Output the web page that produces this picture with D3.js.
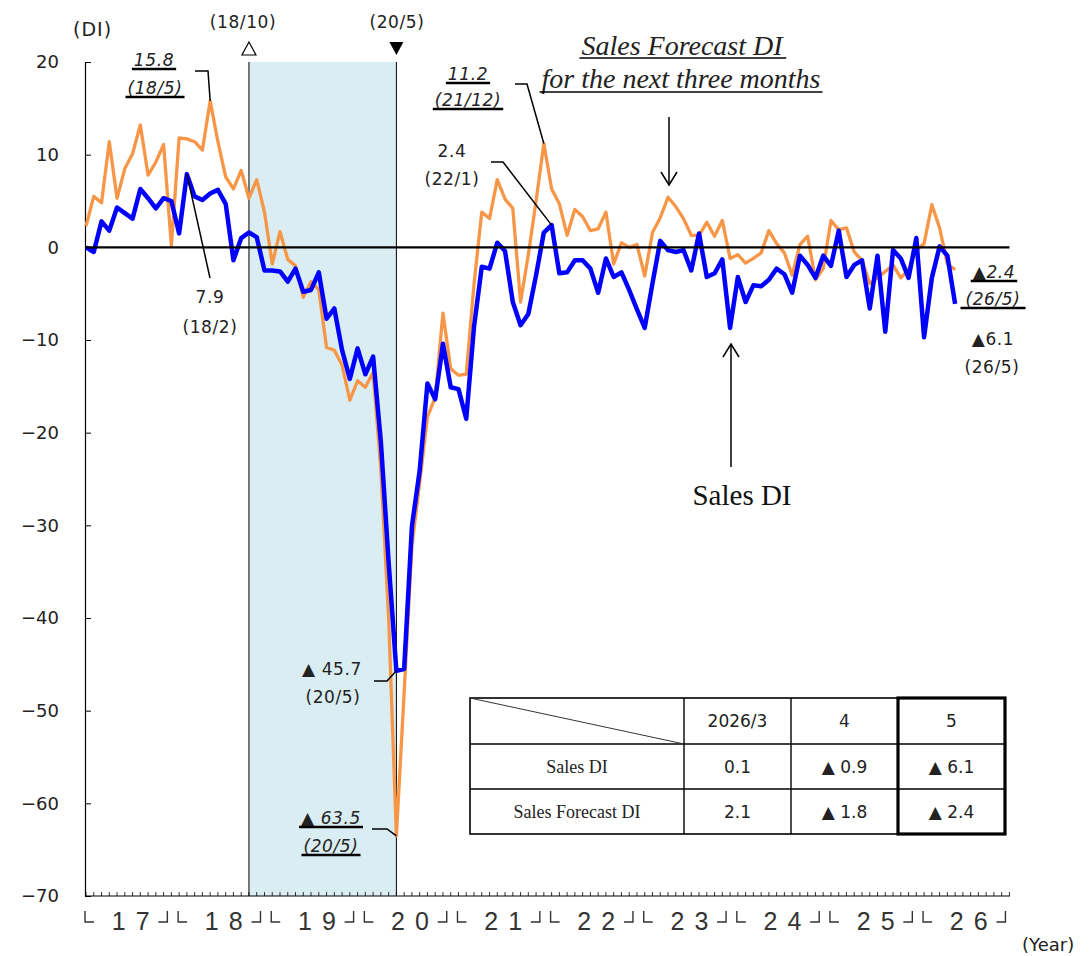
<!DOCTYPE html>
<html><head><meta charset="utf-8">
<script src="https://cdn.jsdelivr.net/npm/d3@7"></script>
<style>body{margin:0;background:#fff;} svg{display:block;}</style>
</head><body>
<svg id="chart" width="1091" height="956"></svg>
<script>
// ---------- DATA ----------
const years = [2017,2018,2019,2020,2021,2022,2023,2024,2025,2026];
const yearLabels = ["17","18","19","20","21","22","23","24","25","26"];
const months = [];
years.forEach(y => { for (let m = 1; m <= 12; m++) months.push(y + "/" + m); });

const salesDI = [
  0.0,-0.5,2.8,1.8,4.3,3.7,3.1,6.3,5.3,4.2,5.3,5.0,
  1.5,7.9,5.5,5.1,5.8,6.2,4.7,-1.4,1.0,1.6,1.1,-2.5,
  -2.5,-2.6,-3.7,-2.3,-4.8,-4.6,-2.7,-7.7,-6.6,-11.1,-14.2,-10.9,
  -13.7,-11.8,-21.0,-34.0,-45.7,-45.5,-30.1,-24.1,-14.7,-16.4,-10.4,-15.1,
  -15.3,-18.5,-8.6,-2.1,-2.3,0.5,-0.4,-5.9,-8.4,-7.2,-3.0,1.6,
  2.4,-2.8,-2.7,-1.4,-1.4,-2.3,-4.9,-1.2,-3.2,-2.7,-4.6,-6.7,
  -8.7,-3.9,0.7,-0.3,-0.5,-0.3,-2.5,1.5,-3.2,-2.8,-1.3,-8.7,
  -3.2,-5.9,-4.1,-4.2,-3.5,-2.3,-2.9,-4.9,-0.9,-1.9,-3.3,-0.9,
  -2.0,1.8,-3.2,-1.9,-1.4,-6.6,-0.9,-9.1,-0.3,-1.2,-3.3,1.0,
  -9.7,-3.3,0.1,-0.9,-6.1
];
const forecastDI = [
  2.3,5.5,4.8,11.4,5.3,8.5,10.1,13.2,7.8,9.2,11.1,0.2,
  11.8,11.7,11.4,10.5,15.8,11.4,7.6,6.3,8.3,5.3,7.3,3.8,
  -1.8,1.7,-1.3,-2.0,-5.4,-3.7,-4.6,-10.8,-11.1,-12.7,-16.5,-14.4,
  -15.1,-13.5,-24.0,-40.0,-63.5,-48.0,-32.2,-25.4,-18.3,-16.2,-7.1,-13.1,
  -13.8,-13.7,-4.0,3.8,3.1,7.3,5.2,4.2,-5.9,-0.8,5.0,11.2,
  6.3,4.7,1.3,4.1,3.3,1.8,2.0,3.8,-1.8,0.5,0.0,0.3,
  -3.1,1.6,3.2,5.4,4.4,3.1,1.3,1.3,2.7,1.2,2.9,-1.2,
  -0.8,-1.7,-1.2,-0.6,1.8,0.4,-0.6,-3.0,0.3,1.2,-3.5,-2.3,
  2.9,1.9,2.1,-0.5,-1.4,-3.9,-3.3,-2.6,-1.9,-3.3,-2.4,-0.3,
  0.4,4.6,2.1,-1.8,-2.4
];
const yTicks = [20,10,0,-10,-20,-30,-40,-50,-60,-70];

const tableCols = ["2026/3","4","5"];
const tableRows = ["Sales DI","Sales Forecast DI"];
const tableSales = ["0.1","▲ 0.9","▲ 6.1"];
const tableForecast = ["2.1","▲ 1.8","▲ 2.4"];

// ---------- SETUP ----------
const svg = d3.select("#chart");
const SANS = "'DejaVu Sans', sans-serif";
const LSANS = "'Liberation Sans', Arial, sans-serif";
const SERIF = "'Liberation Serif', 'Times New Roman', serif";
const INK = "#222";

const x = d3.scalePoint().domain(months).range([86, 86 + 119 * 7.76]);
const y = d3.scaleLinear().domain([-70, 20]).range([896, 62]);
const xi = i => x(months[0]) + i * x.step();
const axisLeft = 85, axisRight = x(months[119]);
const dataMonths = months.slice(0, salesDI.length);

// shaded period
const s0 = x("2018/10"), s1 = x("2020/5");
svg.append("rect").attr("x", s0).attr("y", y(20)).attr("width", s1 - s0).attr("height", y(-70) - y(20)).attr("fill", "#daedf3");
[s0, s1].forEach(v => svg.append("line").attr("x1", v).attr("x2", v).attr("y1", y(20)).attr("y2", y(-70)).attr("stroke", "#000").attr("stroke-width", 1));

// y axis
const ya = svg.append("g").attr("transform", `translate(${axisLeft},0)`)
  .call(d3.axisLeft(y).tickValues(yTicks).tickSize(-6).tickSizeOuter(0).tickPadding(26));
ya.select(".domain").attr("stroke", "#000").attr("stroke-width", 1.2);
ya.selectAll(".tick line").attr("stroke", "#000");
ya.selectAll(".tick text").attr("font-family", SANS).attr("font-size", 18).attr("fill", INK);

// x axis
svg.append("line").attr("x1", axisLeft).attr("x2", axisRight + 0.5).attr("y1", y(-70)).attr("y2", y(-70)).attr("stroke", "#000").attr("stroke-width", 1.2);
svg.append("g").selectAll("line").data(months).join("line")
  .attr("x1", d => x(d)).attr("x2", d => x(d)).attr("y1", y(-70)).attr("y2", y(-70) - 4)
  .attr("stroke", "#000").attr("stroke-width", 0.8);
const xl = svg.append("g").attr("fill", "#333").attr("font-family", LSANS);
yearLabels.forEach((lab, k) => {
  const cx = xi(12 * k + 5.5) + 2;
  xl.append("text").attr("x", cx - 12).attr("y", 930).attr("text-anchor", "middle").attr("font-size", 25).text(lab[0]);
  xl.append("text").attr("x", cx + 12).attr("y", 930).attr("text-anchor", "middle").attr("font-size", 25).text(lab[1]);
  const L = xi(12 * k) - 1, R = xi(12 * k + 11) - 4;
  xl.append("path").attr("d", `M${L},911V922H${L + 9}`).attr("fill", "none").attr("stroke", "#333").attr("stroke-width", 1.4);
  xl.append("path").attr("d", `M${R - 9},922H${R}V911`).attr("fill", "none").attr("stroke", "#333").attr("stroke-width", 1.4);
});
svg.append("text").attr("x", 1022).attr("y", 951).attr("font-family", SANS).attr("font-size", 18).attr("fill", INK).text("(Year)");
svg.append("text").attr("x", 73).attr("y", 36).attr("font-family", SANS).attr("font-size", 19).attr("letter-spacing", 1).attr("fill", INK).text("(DI)");

// series
const line = d3.line().x((d, i) => x(dataMonths[i])).y(d => y(d));
svg.append("path").datum(forecastDI).attr("d", line).attr("fill", "none").attr("stroke", "#f79646").attr("stroke-width", 3.3).attr("stroke-linejoin", "round");
svg.append("path").datum(salesDI).attr("d", line).attr("fill", "none").attr("stroke", "#0000ff").attr("stroke-width", 4.5).attr("stroke-linejoin", "round");

// zero line
svg.append("line").attr("x1", axisLeft).attr("x2", axisRight).attr("y1", y(0)).attr("y2", y(0)).attr("stroke", "#000").attr("stroke-width", 2.4);

// ---------- ANNOTATIONS ----------
const ann = svg.append("g");
function txt(str, cx, by, o = {}) {
  const t = ann.append("text").attr("x", cx).attr("y", by).attr("text-anchor", o.anchor || "middle")
    .attr("font-family", o.font || SANS).attr("font-size", o.size || 17).attr("fill", o.fill || INK)
    .attr("font-style", o.italic ? "italic" : null).attr("letter-spacing", o.ls != null ? o.ls : 0.6).text(str);
  if (o.underline) {
    const b = t.node().getBBox();
    ann.append("line").attr("x1", b.x - (o.ext || 2)).attr("x2", b.x + b.width + (o.ext || 2))
      .attr("y1", by + (o.uoff || 3)).attr("y2", by + (o.uoff || 3)).attr("stroke", "#000").attr("stroke-width", o.uw || 2.6);
  }
  return t;
}
function leader(pts) {
  ann.append("path").attr("d", d3.line()(pts)).attr("fill", "none").attr("stroke", "#000").attr("stroke-width", 1.5);
}
const at = m => months.indexOf(m);

txt("(18/10)", 243, 28);
txt("(20/5)", 397, 28);
ann.append("path").attr("d", `M${s0},42L${s0 - 7},55H${s0 + 7}Z`).attr("fill", "#fff").attr("stroke", "#000").attr("stroke-width", 1.2);
ann.append("path").attr("d", `M${s1 - 7},42H${s1 + 7}L${s1},55Z`).attr("fill", "#000");

// 15.8 (18/5)
txt("15.8", 154, 66, { italic: true, underline: true });
txt("(18/5)", 155, 94, { italic: true, underline: true });
leader([[195, 71], [208, 71], [x("2018/5"), y(forecastDI[at("2018/5")])]]);

// 7.9 (18/2)
txt("7.9", 210, 303);
txt("(18/2)", 210, 333);
leader([[x("2018/2"), y(salesDI[at("2018/2")])], [210, 278]]);

// 11.2 (21/12)
txt("11.2", 468, 80, { italic: true, underline: true });
txt("(21/12)", 468, 106, { italic: true, underline: true });
leader([[515, 84], [527, 84], [x("2021/12"), y(forecastDI[at("2021/12")])]]);

// 2.4 (22/1)
txt("2.4", 452, 157);
txt("(22/1)", 452, 185);
leader([[491, 162], [503, 162], [x("2022/1"), y(salesDI[at("2022/1")])]]);

// title
txt("Sales Forecast DI", 682, 55, { font: SERIF, size: 28, italic: true, underline: true, ls: 0, uw: 1.6, uoff: 3, ext: 0 });
txt("for the next three months", 681, 88, { font: SERIF, size: 28, italic: true, underline: true, ls: 0, uw: 1.6, uoff: 4, ext: 0 });
leader([[669, 117], [669, 185]]);
leader([[661, 172], [669, 185], [677, 172]]);

// Sales DI label
txt("Sales DI", 742, 505, { font: SERIF, size: 29, ls: 0, fill: "#111" });
leader([[731, 467], [731, 344]]);
leader([[723, 357], [731, 344], [739, 357]]);

// end labels
txt("▲2.4", 994, 278, { italic: true, underline: true });
txt("(26/5)", 993, 305, { italic: true, underline: true, ext: 5 });
txt("▲6.1", 993, 345);
txt("(26/5)", 992, 373);

// crash labels
txt("▲ 45.7", 332, 675);
txt("(20/5)", 333, 703);
leader([[374, 681], [387, 681], [x("2020/5"), y(salesDI[at("2020/5")])]]);
txt("▲ 63.5", 331, 824, { italic: true, underline: true });
txt("(20/5)", 331, 852, { italic: true, underline: true });
leader([[372, 829], [387, 829], [x("2020/5"), y(forecastDI[at("2020/5")])]]);

// ---------- TABLE ----------
const colX = [470, 684, 791, 898, 1005];
const rowY = [698, 744, 789, 834];
const tb = svg.append("g");
tb.append("rect").attr("x", colX[0]).attr("y", rowY[0]).attr("width", colX[4] - colX[0]).attr("height", rowY[3] - rowY[0])
  .attr("fill", "#fff").attr("stroke", "#000").attr("stroke-width", 1.6);
colX.slice(1, 4).forEach(cx => tb.append("line").attr("x1", cx).attr("x2", cx).attr("y1", rowY[0]).attr("y2", rowY[3]).attr("stroke", "#000").attr("stroke-width", 1.4));
rowY.slice(1, 3).forEach(ry => tb.append("line").attr("x1", colX[0]).attr("x2", colX[4]).attr("y1", ry).attr("y2", ry).attr("stroke", "#000").attr("stroke-width", 1.4));
tb.append("line").attr("x1", colX[0]).attr("y1", rowY[0]).attr("x2", colX[1]).attr("y2", rowY[1]).attr("stroke", "#333").attr("stroke-width", 1);
tb.append("rect").attr("x", colX[3]).attr("y", rowY[0]).attr("width", colX[4] - colX[3]).attr("height", rowY[3] - rowY[0])
  .attr("fill", "none").attr("stroke", "#000").attr("stroke-width", 3.2);
const cellText = (str, ci, ri, font, size) => tb.append("text")
  .attr("x", (colX[ci] + colX[ci + 1]) / 2).attr("y", (rowY[ri] + rowY[ri + 1]) / 2 + size * 0.36)
  .attr("text-anchor", "middle").attr("font-family", font).attr("font-size", size).attr("fill", INK).text(str);
tableCols.forEach((c, i) => cellText(c, i + 1, 0, SANS, 17));
tableRows.forEach((r, i) => cellText(r, 0, i + 1, SERIF, 18));
tableSales.forEach((v, i) => cellText(v, i + 1, 1, SANS, 17));
tableForecast.forEach((v, i) => cellText(v, i + 1, 2, SANS, 17));
</script>
</body></html>
